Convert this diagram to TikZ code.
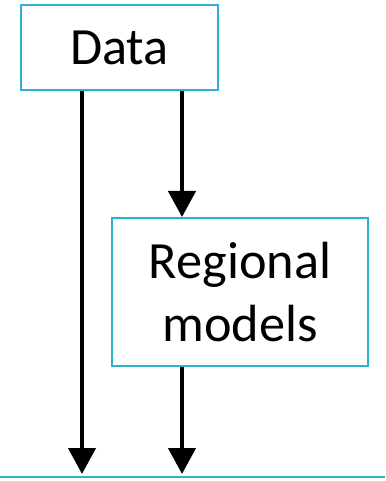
\documentclass[tikz,border=0pt]{standalone}
\usepackage{fontspec}
\setmainfont{Carlito}
\usetikzlibrary{arrows.meta}
\definecolor{boxcyan}{RGB}{44,178,202}
\tikzset{
  box/.style={draw=boxcyan, line width=2bp, inner sep=0pt, align=center, font=\fontsize{52.5}{63}\selectfont},
  flow/.style={line width=4.5bp, -{Triangle[width=27bp,length=26bp]}},
}
\begin{document}
\begin{tikzpicture}[x=1bp,y=-1bp]
\useasboundingbox (0,0) rectangle (385,481);
\node[box, minimum width=197bp, minimum height=85bp] (data) at (119.5,47.5) {Data};
\node[box, minimum width=256bp, minimum height=148bp] (reg) at (240,292) {Regional\\models};
\coordinate (lineL) at (0,477);
\coordinate (lineR) at (385,477);
\coordinate (t1) at (82,474);
\coordinate (t2) at (182,474);
\draw[draw=boxcyan, line width=2.5bp] (lineL) -- (lineR);
\draw[flow] (data.south -| t1) -- (t1);
\draw[flow] (data.south -| t2) -- (reg.north -| t2);
\draw[flow] (reg.south -| t2) -- (t2);
\end{tikzpicture}
\end{document}
